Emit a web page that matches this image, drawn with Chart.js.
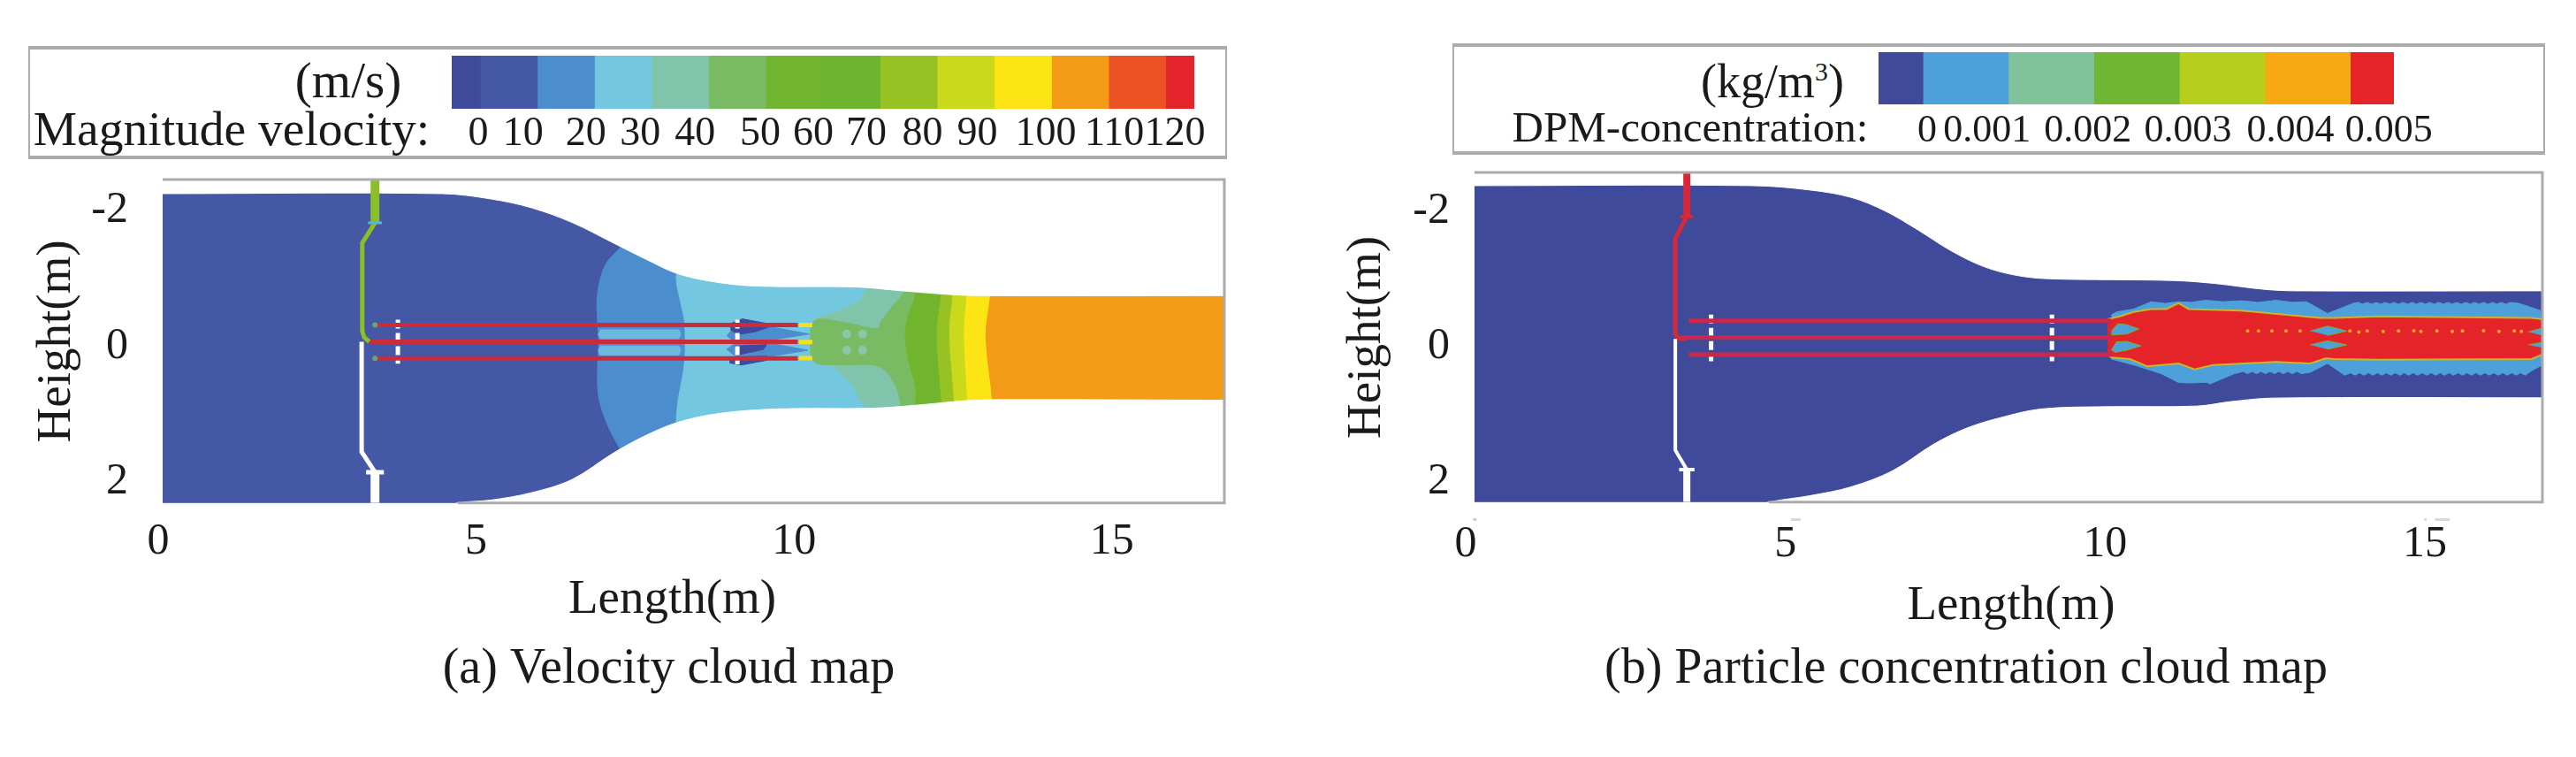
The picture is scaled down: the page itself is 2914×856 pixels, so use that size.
<!DOCTYPE html>
<html>
<head>
<meta charset="utf-8">
<script src="https://cdn.jsdelivr.net/npm/chart.js@4"></script>
<style>
html,body{margin:0;padding:0;background:#fff;width:2914px;height:856px;overflow:hidden;position:relative}
canvas{position:absolute}
.box{position:absolute;box-sizing:border-box;border:2px solid #ababab;border-top-width:4px;border-bottom-width:4px;background:#fff}
.lab{position:absolute;font-family:"Liberation Serif",serif;color:#1a1a1a;white-space:nowrap;line-height:1;transform:translate(-50%,-50%)}
sup{font-size:55%;line-height:0}
</style>
</head>
<body>
<div class="box" style="left:32px;top:52px;width:1356px;height:128px"></div>
<div class="box" style="left:1643px;top:49px;width:1236px;height:126px"></div>
<span class="lab" style="left:262px;top:146px;font-size:55.5px">Magnitude velocity:</span>
<span class="lab" style="left:394px;top:90px;font-size:57px">(m/s)</span>
<span class="lab" style="left:1912px;top:143px;font-size:49px">DPM-concentration:</span>
<span class="lab" style="left:2005px;top:92px;font-size:54px">(kg/m<sup>3</sup>)</span>
<canvas id="barA" width="1512" height="128" style="left:0;top:52px"></canvas>
<canvas id="barB" width="1424" height="126" style="left:1512px;top:49px"></canvas>
<canvas id="plotA" width="1512" height="666" style="left:0;top:190px"></canvas>
<canvas id="plotB" width="1424" height="666" style="left:1512px;top:190px"></canvas>
<script>
// ---------- colour-bar data ----------
const velocityBarWidths=[5,10,10,10,10,10,10,10,10,10,10,10,10,5];
const velocityBarColors=['#3f4a9a','#4458a5','#4c8ecd','#73c7e0','#80c5ab','#79bb62','#71b52f','#6fb42e','#96c224','#cbd91d','#fde515','#f39a17','#ec5223','#e3242b'];
const velocityTickPos=[4.64,12.5,23.5,33,42.6,54,63.3,72.6,82.4,92,104,116,126.6];
const velocityTickText=['0','10','20','30','40','50','60','70','80','90','100','110','120'];
const dpmBarWidths=[0.00052,0.001,0.001,0.001,0.001,0.001,0.00051];
const dpmBarColors=['#3f4a9a','#4ea0da','#80c29a','#6fb632','#b6cf1c','#f7a913','#e5242a'];
const dpmTickPos=[0.00057,0.00127,0.00245,0.00362,0.00482,0.00597];
const dpmTickText=['0','0.001','0.002','0.003','0.004','0.005'];
// ---------- axes ----------
const lengthTicks=[0,5,10,15];
const heightTicks=[-2,0,2];
const xMax=16.7;
const aYMin=-2.364, aYMax=2.403, bYMin=-2.521, bYMax=2.352;
// ---------- (a) velocity: duct walls (metres) ----------
const aTopWall=[[0,-2.156],[4.39,-2.156],[5.16,-2.078],[5.8,-1.948],[6.44,-1.731],[7.09,-1.429],[7.6,-1.19],[8.11,-0.974],[8.76,-0.844],[9.4,-0.792],[10.94,-0.779],[11.59,-0.727],[12.36,-0.671],[12.87,-0.653],[16.7,-0.653]];
const aBottomWall=[[4.64,2.403],[5.16,2.36],[5.8,2.251],[6.44,2.056],[7.09,1.667],[7.6,1.407],[8.11,1.212],[8.76,1.082],[9.66,1.017],[11.2,1.004],[11.97,0.952],[12.62,0.896],[13.26,0.879],[16.7,0.887]];
// velocity contour lines, top to bottom
const c10=[[7.34,-1.6],[7.22,-1.39],[6.96,-1.1],[6.84,-0.675],[6.84,-0.286],[6.86,0.026],[6.84,0.455],[6.86,0.844],[6.99,1.234],[7.19,1.6],[7.35,1.85]];
const c20=[[8.2,-1.3],[8.08,-0.948],[8.15,-0.545],[8.21,-0.26],[8.21,0.325],[8.11,0.883],[8.08,1.195],[8.1,1.4]];
const c30=[[11.1,-1],[11.06,-0.753],[10.96,-0.584],[10.46,-0.364],[10.26,-0.3],[10.19,0.026],[10.26,0.35],[10.46,0.35],[10.81,0.623],[11.01,0.935],[11.11,1.013],[11.13,1.2]];
const c40=[[11.68,-1],[11.66,-0.714],[11.5,-0.519],[11.31,-0.286],[11.24,-0.169],[10.71,-0.26],[10.26,-0.286],[10.19,0.026],[10.26,0.325],[10.71,0.364],[11.27,0.39],[11.5,0.623],[11.61,0.935],[11.62,1.2]];
const c50=[[11.85,-1],[11.85,-0.688],[11.73,-0.364],[11.68,-0.104],[11.73,0.286],[11.85,0.714],[11.84,0.935],[11.84,1.2]];
const c70=[[12.25,-1],[12.25,-0.675],[12.18,-0.104],[12.25,0.883],[12.25,1.2]];
const c80=[[12.43,-1],[12.43,-0.675],[12.38,-0.104],[12.45,0.883],[12.45,1.2]];
const c90=[[12.65,-1],[12.65,-0.649],[12.61,-0.104],[12.66,0.883],[12.66,1.2]];
const c100=[[13.02,-1],[13.02,-0.649],[12.95,-0.065],[13.05,0.87],[13.05,1.2]];
// patches around the nozzles
const aStripUpper=[[6.88,-0.15],[8.12,-0.15],[8.15,-0.09],[8.12,-0.02],[6.88,-0.02],[6.85,-0.09]];
const aStripLower=[[6.88,0.09],[8.12,0.09],[8.15,0.15],[8.12,0.22],[6.88,0.22],[6.85,0.15]];
const aMidUpper=[[8.87,-0.06],[9.0,-0.19],[9.57,-0.19],[10.17,-0.087],[9.57,0],[8.95,0]];
const aMidLower=[[8.87,0.14],[9.0,0.05],[9.57,0.05],[10.15,0.152],[9.57,0.24],[9.0,0.24]];
const aDarkUpper=[[8.93,-0.24],[9.12,-0.31],[9.52,-0.24],[9.57,-0.2],[9.32,-0.12],[9.05,-0.08],[8.93,-0.15]];
const aDarkMiddle=[[9.0,0.09],[9.5,0.07],[9.45,0.14],[9.05,0.22]];
const aDarkLower=[[8.9,0.25],[9.5,0.24],[9.5,0.3],[9.1,0.37],[8.92,0.34]];
const aBubbles=[[10.76,-0.087],[11.01,-0.087],[10.76,0.152],[11.01,0.152]];
const aTipA=[[10.01,-0.22],[10.22,-0.22]], aTipB=[[10.01,0.03],[10.22,0.03]], aTipC=[[10.01,0.27],[10.22,0.27]];
const aTube1=[[3.38,-0.22],[9.99,-0.22]], aTube2=[[3.25,0.026],[9.99,0.026]], aTube3=[[3.38,0.273],[9.99,0.273]];
const aTubeStarts=[[3.34,-0.22],[3.34,0.273]];
const aDashL=[[3.7,-0.3],[3.7,0.35]], aDashR=[[9.04,-0.3],[9.04,0.36]];
const aPipeThickUp=[[3.34,-2.364],[3.34,-1.727]];
const aPipeUp=[[3.34,-1.727],[3.14,-1.429],[3.14,-0.13],[3.17,-0.039],[3.25,0.026]];
const aPipeDown=[[3.13,0.026],[3.13,1.649],[3.34,1.948]];
const aPipeThickDown=[[3.34,1.948],[3.34,2.403]];
const aBarUp=[[3.23,-1.727],[3.45,-1.727]], aBarDown=[[3.2,1.948],[3.48,1.948]];
// ---------- (b) concentration ----------
const bTopWall=[[0,-2.326],[4.34,-2.326],[5.25,-2.261],[5.89,-2.152],[6.41,-1.957],[6.93,-1.674],[7.44,-1.37],[7.96,-1.131],[8.47,-1],[8.99,-0.949],[10.93,-0.923],[11.57,-0.88],[12.35,-0.793],[12.86,-0.771],[16.7,-0.771]];
const bBottomWall=[[4.6,2.352],[5.25,2.256],[5.89,2.126],[6.54,1.887],[7.18,1.496],[7.7,1.257],[8.22,1.105],[8.86,0.975],[9.9,0.941],[11.3,0.932],[11.83,0.866],[12.48,0.814],[16.7,0.81]];
const bEnvelope=[[9.96,-0.415],[10.04,-0.459],[10.31,-0.502],[10.58,-0.61],[10.8,-0.585],[11.01,-0.61],[11.2,-0.6],[11.43,-0.632],[11.7,-0.61],[12.0,-0.625],[12.25,-0.6],[12.53,-0.632],[12.8,-0.6],[13.01,-0.61],[13.34,-0.437],[13.75,-0.589],[13.82,-0.6],[13.89,-0.575],[13.96,-0.6],[14.03,-0.575],[14.1,-0.6],[14.17,-0.575],[14.24,-0.6],[14.31,-0.575],[14.38,-0.6],[14.45,-0.575],[14.52,-0.6],[14.59,-0.575],[14.66,-0.6],[14.73,-0.575],[14.8,-0.6],[14.87,-0.575],[14.94,-0.6],[15.01,-0.575],[15.08,-0.6],[15.15,-0.575],[15.22,-0.6],[15.29,-0.575],[15.36,-0.6],[15.43,-0.575],[15.5,-0.6],[15.57,-0.575],[15.64,-0.6],[15.71,-0.575],[15.78,-0.6],[15.85,-0.575],[15.92,-0.6],[15.99,-0.575],[16.06,-0.6],[16.13,-0.575],[16.2,-0.6],[16.32,-0.589],[16.67,-0.48],[16.7,0.324],[16.55,0.4],[16.43,0.476],[16.36,0.44],[16.29,0.476],[16.22,0.44],[16.15,0.476],[16.08,0.44],[16.01,0.476],[15.94,0.44],[15.87,0.476],[15.8,0.44],[15.73,0.476],[15.66,0.44],[15.59,0.476],[15.52,0.44],[15.45,0.476],[15.38,0.44],[15.31,0.476],[15.24,0.44],[15.17,0.476],[15.1,0.44],[15.03,0.476],[14.96,0.44],[14.89,0.476],[14.82,0.44],[14.75,0.476],[14.68,0.44],[14.61,0.476],[14.54,0.44],[14.47,0.476],[14.4,0.44],[14.33,0.476],[14.26,0.44],[14.19,0.476],[14.12,0.44],[14.05,0.476],[13.98,0.44],[13.91,0.476],[13.84,0.44],[13.77,0.476],[13.7,0.44],[13.61,0.476],[13.34,0.302],[13.07,0.432],[12.93,0.454],[12.86,0.42],[12.79,0.454],[12.72,0.42],[12.65,0.454],[12.58,0.42],[12.51,0.454],[12.44,0.42],[12.37,0.454],[12.3,0.42],[12.23,0.454],[12.16,0.42],[12.09,0.454],[12.02,0.42],[11.88,0.454],[11.5,0.606],[11.45,0.58],[11.2,0.59],[11.01,0.584],[10.9,0.53],[10.74,0.454],[10.31,0.324],[9.96,0.237]];
const bCore=[[9.9,-0.35],[10.09,-0.393],[10.31,-0.459],[10.58,-0.502],[10.82,-0.502],[11.01,-0.589],[11.17,-0.502],[11.99,-0.48],[13.23,-0.372],[13.45,-0.372],[14.15,-0.393],[16.53,-0.372],[16.7,-0.35],[16.7,0.172],[16.53,0.237],[14.15,0.246],[13.45,0.237],[13.31,0.228],[13.07,0.302],[12.53,0.28],[11.55,0.324],[11.26,0.389],[11.01,0.302],[10.52,0.345],[10.25,0.237],[9.96,0.215],[9.9,0.172]];
const bHole1=[[9.96,-0.177],[10.06,-0.284],[10.2,-0.271],[10.39,-0.207],[10.2,-0.133],[9.96,-0.12]];
const bHole2=[[9.96,0.107],[10.04,-0.015],[10.2,-0.024],[10.42,0.041],[10.2,0.107],[10.01,0.137]];
const bHole3=[[13.07,-0.177],[13.34,-0.25],[13.64,-0.177],[13.34,-0.112]];
const bHole4=[[13.07,0.028],[13.34,-0.032],[13.64,0.028],[13.34,0.093]];
const bHole5=[[16.48,-0.164],[16.7,-0.22],[16.7,-0.112]];
const bHole6=[[16.48,0.028],[16.7,-0.011],[16.7,0.071]];
const bSpecks=[[12.09,-0.177],[12.26,-0.177],[12.47,-0.177],[12.69,-0.177],[12.91,-0.177],[13.69,-0.177],[13.83,-0.16],[13.96,-0.177],[14.21,-0.17],[14.45,-0.177],[14.69,-0.18],[14.8,-0.17],[15.05,-0.177],[15.29,-0.17],[15.45,-0.177],[15.78,-0.18],[16.02,-0.17],[16.26,-0.177],[16.37,-0.17]];
const bTube1=[[3.35,-0.328],[9.96,-0.328]], bTube2=[[3.18,-0.081],[9.96,-0.081]], bTube3=[[3.35,0.172],[9.96,0.172]];
const bDashL=[[3.7,-0.42],[3.7,0.27]], bDashR=[[9.03,-0.42],[9.03,0.27]];
const bPipeThickUp=[[3.32,-2.521],[3.32,-1.87]];
const bPipeUp=[[3.32,-1.87],[3.14,-1.544],[3.14,-0.137],[3.18,-0.072],[3.3,-0.06]];
const bPipeDown=[[3.14,-0.06],[3.14,1.583],[3.32,1.87]];
const bPipeThickDown=[[3.32,1.87],[3.32,2.352]];
const bBarUp=[[3.22,-1.87],[3.42,-1.87]], bBarDown=[[3.2,1.87],[3.44,1.87]];
const bStubA=[[-0.02,2.61],[0.03,2.61]], bStubB=[[4.95,2.61],[5.1,2.61]], bStubC=[[14.85,2.61],[14.89,2.61]], bStubD=[[15.02,2.61],[15.25,2.61]];

// ---------- helpers ----------
const SERIF='"Liberation Serif",serif';
const INK='#1a1a1a';
const SMOOTH={tension:0.35,capBezierPoints:false};
const pts=a=>a.map(p=>({x:p[0],y:p[1]}));
const poly=(a,c,extra)=>({data:pts(a),fill:'shape',backgroundColor:c,borderColor:c,borderWidth:1,pointRadius:0,tension:0,...extra});
const stroke=(a,c,w,extra)=>({data:pts(a),fill:false,borderColor:c,borderWidth:w,pointRadius:0,tension:0,...extra});
const dots=(a,c,r)=>({data:pts(a),showLine:false,pointRadius:r,pointBackgroundColor:c,pointBorderWidth:0,pointBorderColor:c});
const band=(contour,c)=>poly(contour.concat([[22,contour[contour.length-1][1]],[22,contour[0][1]]]),c,SMOOTH);
const topMask=w=>poly([[-4,w[0][1]]].concat(w,[[22,w[w.length-1][1]],[22,-7],[-4,-7]]),'#ffffff',SMOOTH);
const bottomMask=w=>poly([[w[0][0]-0.6,w[0][1]+0.15]].concat(w,[[22,w[w.length-1][1]],[22,7],[w[0][0]-0.6,7]]),'#ffffff',SMOOTH);
const order=list=>list.map((d,i)=>({...d,order:list.length-i}));
function shiftDraw(obj,name,ctx,dx){
  const d=obj[name];
  obj[name]=function(){ctx.save();ctx.translate(dx,0);d.apply(this,arguments);ctx.restore();};
}

function plot(id,datasets,o){
  const chart=new Chart(document.getElementById(id),{
    type:'line',
    data:{datasets:order(datasets)},
    options:{
      responsive:false,animation:false,devicePixelRatio:1,
      layout:{padding:{top:o.top,right:o.right,left:0,bottom:0}},
      plugins:{legend:{display:false},tooltip:{enabled:false},
        title:{display:true,text:o.caption,position:'bottom',color:INK,font:{family:SERIF,size:56,weight:'normal'},padding:{top:0,bottom:65}}},
      scales:{
        x:{type:'linear',min:0,max:xMax,
          grid:{display:false},border:{display:false},
          afterFit:s=>{s.height=o.xH;s.paddingLeft=0;s.paddingRight=0;},
          afterBuildTicks:s=>{s.ticks=lengthTicks.map(v=>({value:v}))},
          ticks:{color:INK,font:{family:SERIF,size:50},padding:o.xPad,labelOffset:o.xOff,autoSkip:false,maxRotation:0},
          title:{display:true,text:'Length(m)',color:INK,font:{family:SERIF,size:55},padding:{top:0,bottom:o.xTitlePad}}},
        y:{type:'linear',reverse:true,min:o.yMin,max:o.yMax,
          grid:{display:false},border:{display:false},
          afterFit:s=>{s.width=o.yW;s.paddingTop=0;s.paddingBottom=0;},
          afterBuildTicks:s=>{s.ticks=heightTicks.map(v=>({value:v}))},
          ticks:{color:INK,font:{family:SERIF,size:50},padding:o.yPad,labelOffset:o.yOff,autoSkip:false,crossAlign:'near',callback:v=>String(v)},
          title:{display:true,text:'Height(m)',color:INK,font:{family:SERIF,size:55},padding:{top:o.yTitlePad,bottom:0}}}
      }
    }
  });
  shiftDraw(chart.scales.x,'drawTitle',chart.ctx,o.titleShift);
  shiftDraw(chart.titleBlock,'draw',chart.ctx,o.captionShift);
  chart.draw();
  return chart;
}
function colorBar(id,widths,colors,pos,text,o){
  new Chart(document.getElementById(id),{
    type:'bar',
    data:{labels:[''],datasets:widths.map((w,i)=>({data:[w],backgroundColor:colors[i],borderWidth:0,barPercentage:1,categoryPercentage:1}))},
    options:{indexAxis:'y',responsive:false,animation:false,devicePixelRatio:1,
      layout:{padding:{top:o.top,left:o.left,right:o.right,bottom:0}},
      plugins:{legend:{display:false},tooltip:{enabled:false}},
      scales:{
        y:{display:false,stacked:true},
        x:{type:'linear',stacked:true,min:0,max:o.max,grid:{display:false},border:{display:false},
          afterFit:s=>{s.height=o.h;s.paddingLeft=0;s.paddingRight=0;},
          afterBuildTicks:s=>{s.ticks=pos.map(v=>({value:v}))},
          ticks:{color:INK,font:{family:SERIF,size:o.size,lineHeight:1},padding:o.pad,autoSkip:false,maxRotation:0,callback:(v,i)=>text[i]}}
      }
    }
  });
}

colorBar('barA',velocityBarWidths,velocityBarColors,velocityTickPos,velocityTickText,{top:11,left:511,right:161,h:57,max:130,size:46,pad:-2});
colorBar('barB',dpmBarWidths,dpmBarColors,dpmTickPos,dpmTickText,{top:10,left:613,right:228,h:57,max:0.00603,size:44,pad:0});

plot('plotA',[
  poly([[0,aYMin],[xMax,aYMin],[xMax,aYMax],[0,aYMax]],'#4458a5'),
  band(c10,'#4c8ecd'),band(c20,'#73c7e0'),band(c30,'#80c5ab'),band(c40,'#79bb62'),band(c50,'#71b52f'),
  band(c70,'#96c224'),band(c80,'#cbd91d'),band(c90,'#fde515'),band(c100,'#f39a17'),
  poly(aStripUpper,'#6db8de'),poly(aStripLower,'#6db8de'),
  poly(aMidUpper,'#4c8ecd'),poly(aMidLower,'#4c8ecd'),
  poly(aDarkUpper,'#3f4a9a'),poly(aDarkMiddle,'#3f4a9a'),poly(aDarkLower,'#3f4a9a'),
  dots(aBubbles,'#86c8a8',5),
  stroke(aTipA,'#f3e01e',5),stroke(aTipB,'#f3e01e',5),stroke(aTipC,'#f3e01e',5),
  topMask(aTopWall),bottomMask(aBottomWall),
  stroke(aDashL,'#ffffff',5,{borderDash:[10,5]}),stroke(aDashR,'#ffffff',5,{borderDash:[10,5]}),
  stroke(aTube1,'#cc2b3c',5),stroke(aTube2,'#cc2b3c',5),stroke(aTube3,'#cc2b3c',5),
  dots(aTubeStarts,'#6aa86a',3),
  stroke(aPipeThickUp,'#8cbf26',10),stroke(aPipeUp,'#8cbf26',5),stroke(aBarUp,'#55b6d8',3),
  stroke(aPipeDown,'#ffffff',5),stroke(aPipeThickDown,'#ffffff',10),stroke(aBarDown,'#ffffff',5),
  stroke([[0,aYMin],[xMax,aYMin],[xMax,aYMax],[4.64,aYMax]],'#ababab',3,{clip:false})
],{caption:'(a) Velocity cloud map',top:13,right:127,xH:155,yW:184,xPad:6,xOff:-5,yOff:7,xTitlePad:12,yPad:31,yTitlePad:32,yMin:aYMin,yMax:aYMax,titleShift:-24,captionShift:64});

plot('plotB',[
  poly([[0,bYMin],[xMax,bYMin],[xMax,bYMax],[0,bYMax]],'#3f4a9a'),
  poly(bEnvelope,'#4ea0da'),
  poly(bCore,'#e5242a',{borderColor:'#c9b52a',borderWidth:2}),
  poly(bHole1,'#4ea0da',{borderColor:'#6fb632',borderWidth:1}),poly(bHole2,'#4ea0da',{borderColor:'#6fb632',borderWidth:1}),
  poly(bHole3,'#4ea0da',{borderColor:'#6fb632',borderWidth:1}),poly(bHole4,'#4ea0da',{borderColor:'#6fb632',borderWidth:1}),
  poly(bHole5,'#4ea0da',{borderColor:'#6fb632',borderWidth:1}),poly(bHole6,'#4ea0da',{borderColor:'#6fb632',borderWidth:1}),
  dots(bSpecks,'#f7a913',2),
  topMask(bTopWall),bottomMask(bBottomWall),
  stroke(bDashL,'#ffffff',5,{borderDash:[10,5]}),stroke(bDashR,'#ffffff',5,{borderDash:[10,5]}),
  stroke(bTube1,'#c8284b',5),stroke(bTube2,'#c8284b',5),stroke(bTube3,'#c8284b',5),
  stroke(bPipeThickUp,'#d8273a',8),stroke(bPipeUp,'#d8273a',5),stroke(bBarUp,'#d8273a',4),
  stroke(bPipeDown,'#ffffff',4),stroke(bPipeThickDown,'#ffffff',8),stroke(bBarDown,'#ffffff',4),
  stroke(bStubA,'#c8c8c8',3,{clip:false}),stroke(bStubB,'#d8d8d8',3,{clip:false}),stroke(bStubC,'#d8d8d8',3,{clip:false}),stroke(bStubD,'#d8d8d8',3,{clip:false}),
  stroke([[0,bYMin],[xMax,bYMin],[xMax,bYMax],[4.6,bYMax]],'#ababab',3,{clip:false})
],{caption:'(b) Particle concentration cloud map',top:5,right:60,xH:156,yW:156,xPad:10,xOff:-10,yOff:4,xTitlePad:5,yPad:20,yTitlePad:2,yMin:bYMin,yMax:bYMax,titleShift:3,captionShift:30});
</script>
</body>
</html>
